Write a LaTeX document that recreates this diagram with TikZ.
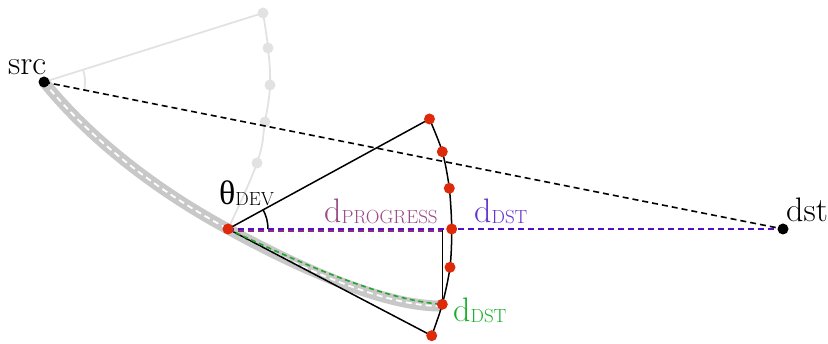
\documentclass[tikz,border=0pt]{standalone}
\usepackage{fontspec}
\newfontfamily\greekfont{Liberation Serif}
\usetikzlibrary{calc}
\definecolor{ghost}{HTML}{E2E2E2}
\definecolor{pathgray}{HTML}{C8C8C8}
\definecolor{dotred}{HTML}{DD2A0A}
\definecolor{dstpurple}{HTML}{5212C4}
\definecolor{dsttext}{HTML}{6434D0}
\definecolor{mauve}{HTML}{8C2C7C}
\definecolor{mauvetext}{HTML}{9A4A88}
\definecolor{pathgreen}{HTML}{22A82A}
\definecolor{greentext}{HTML}{18B028}
\newcommand{\bigtxt}{\fontsize{34}{40}\selectfont}
\newcommand{\subsc}[1]{\raisebox{-1pt}{\fontsize{19}{22}\selectfont #1}}
\begin{document}
\begin{tikzpicture}[x=1pt,y=-1pt,
  dotnode/.style={circle,fill=#1,inner sep=0pt,minimum size=11pt},
  ghostline/.style={draw=ghost,line width=1.8pt},
  solidline/.style={draw=black,line width=1.5pt},
  blackdash/.style={draw=black,line width=1.6pt,dash pattern=on 6pt off 4pt},
  lbl/.style={anchor=base west,inner sep=0pt,font=\bigtxt}]
\useasboundingbox (0,0) rectangle (828,344);

% points
\coordinate (srcp) at (44,82);
\coordinate (dstp) at (783,229);
\coordinate (curp) at (228,229);
\coordinate (g0) at (263,13);
\coordinate (g1) at (268,48);
\coordinate (g2) at (270,85);
\coordinate (g3) at (265,122);
\coordinate (g4) at (257,163);
\coordinate (a1) at (429.5,119);
\coordinate (a2) at (442.3,151.7);
\coordinate (a3) at (449.3,188.3);
\coordinate (a4) at (451.7,229);
\coordinate (a5) at (450,267.3);
\coordinate (a6) at (442.3,304.3);
\coordinate (a7) at (431.7,335.7);
\coordinate (pend) at (440,306);
\coordinate (pf) at (a6 |- curp);

% ghost previous step
\draw[ghostline] (srcp) -- (g0);
\draw[ghostline] plot[smooth,tension=0.7] coordinates {(g0) (g1) (g2) (g3) (g4) (curp)};
\draw[ghostline] (srcp) ++(-17.5:41) arc[start angle=-17.5,end angle=11.25,radius=41];
\foreach \g in {g0,g1,g2,g3,g4} \node[dotnode=ghost] (n\g) at (\g) {};

% travelled path
\draw[pathgray,line width=11pt] (srcp) .. controls (95,145) and (165,195) .. (curp)
  .. controls (290,263) and (380,306) .. (pend);
\draw[white,line width=1.8pt,dash pattern=on 6pt off 4pt] (srcp) .. controls (95,145) and (165,195) .. (curp)
  .. controls (290,263) and (380,306) .. (pend);

% src -> dst
\draw[blackdash] (srcp) -- (dstp);

% candidate fan
\draw[solidline] (curp) -- (a1);
\draw[solidline] (curp) -- (a7);
\draw[solidline] plot[smooth] coordinates {(a1) (a2) (a3) (a4) (a5) (a6) (a7)};
\draw[solidline] (curp) ++(-28.6:40) arc[start angle=-28.6,end angle=0,radius=40];
\draw[black,line width=1.1pt] (a6) -- (pf);

% distances
\draw[pathgreen,line width=1.6pt,dash pattern=on 5pt off 3.5pt] (curp) .. controls (290,258) and (380,300) .. (a6);
\draw[dstpurple,line width=1.8pt,dash pattern=on 6pt off 4pt] (curp) -- (dstp);
\draw[mauve,line width=2.4pt,dash pattern=on 6pt off 4pt] ([yshift=-2pt]curp) -- ([yshift=-2pt]pf);

% dots
\node[dotnode=black] (src) at (srcp) {};
\node[dotnode=black] (dst) at (dstp) {};
\node[dotnode=dotred] (cur) at (curp) {};
\foreach \a in {a1,a2,a3,a4,a5,a6,a7} \node[dotnode=dotred] (n\a) at (\a) {};

% labels
\node[lbl] (srclbl) at (8,75) {src};
\node[lbl] (dstlbl) at (786,222) {dst};
\node[lbl] (thetalbl) at (219,205) {{\greekfont θ}\subsc{DEV}};
\node[lbl,text=mauvetext] (proglbl) at (324,223) {d\subsc{PROGRESS}};
\node[lbl,text=dsttext] (dstdlbl) at (474,223) {d\subsc{DST}};
\node[lbl,text=greentext] (greenlbl) at (453,322) {d\subsc{DST}};
\end{tikzpicture}
\end{document}
